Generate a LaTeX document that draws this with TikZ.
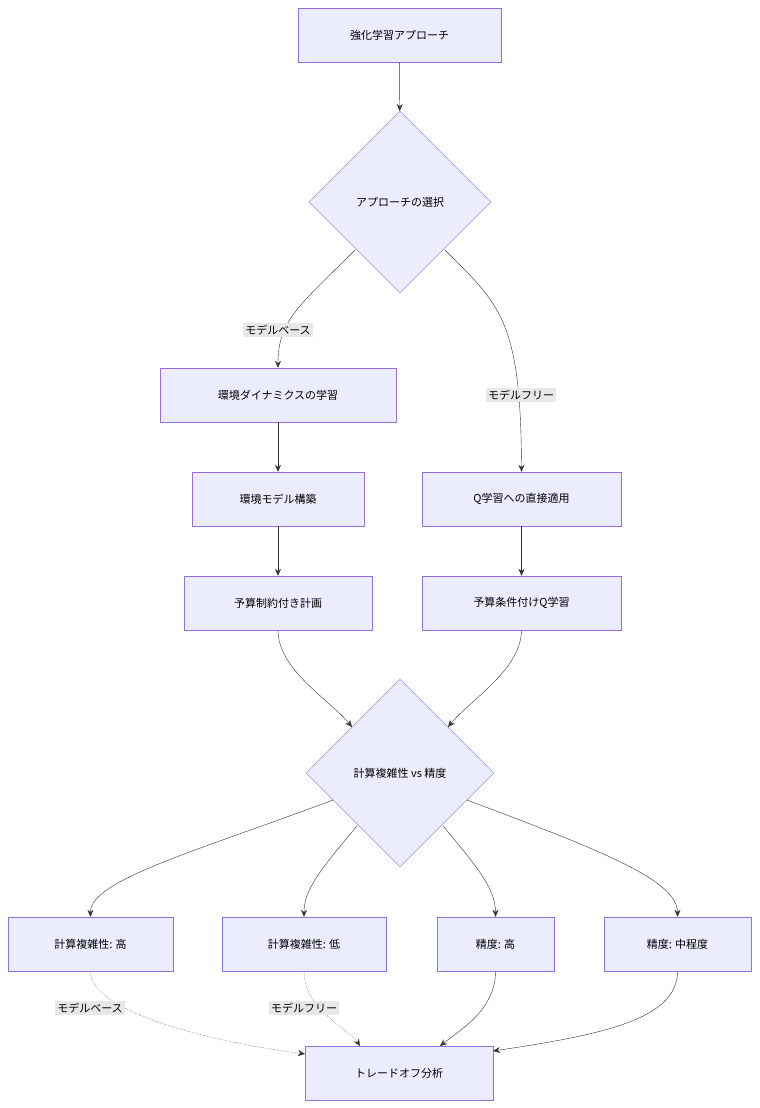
\documentclass[tikz,border=0pt]{standalone}
\usepackage{fontspec}
\setmainfont{Noto Sans CJK JP}
\usetikzlibrary{shapes.geometric,arrows.meta}
\definecolor{boxfill}{HTML}{ECECFF}
\definecolor{boxline}{HTML}{9370DB}
\definecolor{lblfill}{HTML}{E8E8E8}
\begin{document}
\begin{tikzpicture}[x=1pt,y=-1pt,
   font=\fontsize{11}{13}\selectfont,
   box/.style={draw=boxline, fill=boxfill, minimum height=54pt, inner sep=0pt},
   choice/.style={draw=boxline, fill=boxfill, diamond, inner sep=0pt},
   lbl/.style={fill=lblfill, inner sep=2pt},
   arr/.style={draw=black!80, -{Stealth[length=7pt,width=6pt]}},
   dot/.style={arr, densely dotted}]
\useasboundingbox (0,0) rectangle (760,1108);

\node[box, minimum width=203pt] (start) at (399.5,35) {強化学習アプローチ};
\node[choice, minimum width=182pt, minimum height=182pt] (pick) at (400,202) {アプローチの選択};
\node[box, minimum width=236pt] (dyn) at (278,395) {環境ダイナミクスの学習};
\node[box, minimum width=172pt] (model) at (278,499) {環境モデル構築};
\node[box, minimum width=188pt] (plan) at (278,603) {予算制約付き計画};
\node[box, minimum width=199pt] (qdir) at (521.5,499) {Q学習への直接適用};
\node[box, minimum width=199pt] (qbud) at (521.5,603) {予算条件付けQ学習};
\node[choice, minimum width=188pt, minimum height=188pt] (cmp) at (400,773) {計算複雑性 vs 精度};
\node[box, minimum width=165pt] (chi) at (90.5,944) {計算複雑性: 高};
\node[box, minimum width=164pt] (clo) at (304,944) {計算複雑性: 低};
\node[box, minimum width=117pt] (phi) at (495.5,944) {精度: 高};
\node[box, minimum width=147pt] (pmid) at (677.5,944) {精度: 中程度};
\node[box, minimum width=188pt] (trade) at (399,1073) {トレードオフ分析};

\draw[arr] (start) -- (pick);
\draw[arr] (pick.south west) ++(0,0) coordinate (a1)
   (355,250) .. controls (300,305) and (278,320) .. (dyn.north);
\node[lbl] (mb) at (278,330) {モデルベース};
\draw[arr] (445,250) .. controls (500,305) and (521,320) .. (qdir.north);
\node[lbl] (mf) at (521,395) {モデルフリー};
\draw[arr] (dyn) -- (model);
\draw[arr] (model) -- (plan);
\draw[arr] (qdir) -- (qbud);
\draw[arr] (plan.south) .. controls (278,670) and (330,700) .. (352,727);
\draw[arr] (qbud.south) .. controls (521,670) and (470,700) .. (448,727);
\draw[arr] (333,800) .. controls (200,850) and (90,880) .. (chi.north);
\draw[arr] (357,826) .. controls (320,870) and (304,890) .. (clo.north);
\draw[arr] (443,826) .. controls (480,870) and (495.5,890) .. (phi.north);
\draw[arr] (467,800) .. controls (600,850) and (677.5,880) .. (pmid.north);
\draw[dot] (chi.south) .. controls (90,1010) and (200,1040) .. (305,1054);
\node[lbl] (mb2) at (90,1008) {モデルベース};
\draw[dot] (clo.south) .. controls (304,1010) and (350,1030) .. (360,1046);
\node[lbl] (mf2) at (304,1008) {モデルフリー};
\draw[arr] (phi.south) .. controls (495.5,1010) and (460,1030) .. (440,1046);
\draw[arr] (pmid.south) .. controls (677.5,1020) and (600,1035) .. (493,1051);
\end{tikzpicture}
\end{document}
